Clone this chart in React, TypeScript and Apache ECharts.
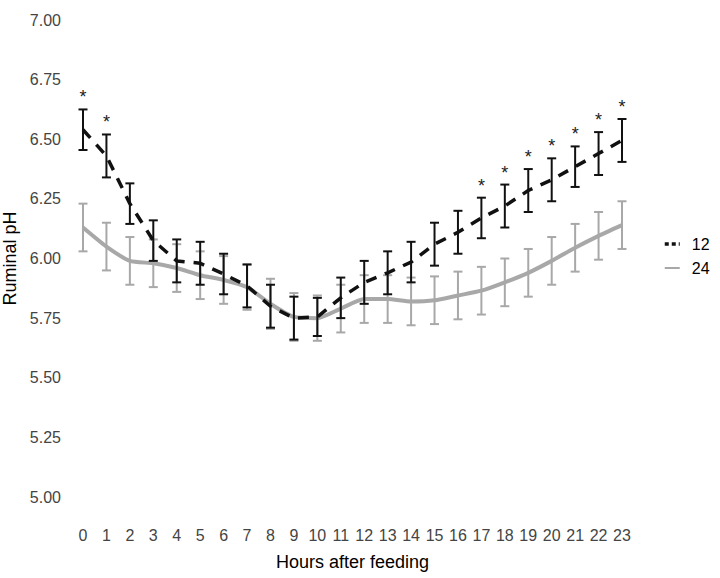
import { useEffect, useRef } from 'react';
import * as echarts from 'echarts';

const hours = Array.from({ length: 24 }, (_, i) => i);

// 12 h group (black dashed)
const mean12 = [6.54, 6.43, 6.23, 6.075, 5.99, 5.98, 5.935, 5.885, 5.8, 5.75, 5.755, 5.835, 5.9, 5.94, 5.985, 6.06, 6.11, 6.17, 6.22, 6.285, 6.33, 6.385, 6.44, 6.495];
const sem12 = [0.085, 0.09, 0.085, 0.085, 0.09, 0.09, 0.085, 0.09, 0.09, 0.09, 0.08, 0.085, 0.09, 0.09, 0.085, 0.09, 0.09, 0.085, 0.09, 0.09, 0.09, 0.085, 0.09, 0.09];

// 24 h group (grey solid)
const mean24 = [6.13, 6.05, 5.99, 5.98, 5.96, 5.93, 5.91, 5.88, 5.81, 5.755, 5.75, 5.79, 5.83, 5.83, 5.82, 5.825, 5.845, 5.865, 5.9, 5.94, 5.99, 6.045, 6.095, 6.14];
const sem24 = [0.1, 0.1, 0.1, 0.1, 0.1, 0.1, 0.1, 0.095, 0.105, 0.1, 0.095, 0.1, 0.1, 0.1, 0.1, 0.1, 0.1, 0.1, 0.1, 0.1, 0.1, 0.1, 0.1, 0.1];

// hours where the difference is significant
const sigHours = [0, 1, 17, 18, 19, 20, 21, 22, 23];

const BLACK = '#111111';
const GREY = '#a8a8a8';
const FONT = 'Arial, "Liberation Sans", sans-serif';

// eslint-disable-next-line @typescript-eslint/no-explicit-any
const errorBars = (color: string) => (_params: any, api: any) => {
  const x = api.value(0);
  const top = api.coord([x, api.value(2)]);
  const bottom = api.coord([x, api.value(1)]);
  const half = 4.5;
  const style = { stroke: color, lineWidth: 2 };
  return {
    type: 'group',
    children: [
      { type: 'line', shape: { x1: top[0], y1: top[1], x2: bottom[0], y2: bottom[1] }, style },
      { type: 'line', shape: { x1: top[0] - half, y1: top[1], x2: top[0] + half, y2: top[1] }, style },
      { type: 'line', shape: { x1: bottom[0] - half, y1: bottom[1], x2: bottom[0] + half, y2: bottom[1] }, style }
    ]
  };
};

export default function App() {
  const chartRef = useRef<HTMLDivElement>(null);

  useEffect(() => {
    if (!chartRef.current) return;
    const chart = echarts.init(chartRef.current, null, { renderer: 'svg' });

    const bars12 = hours.map((h, i) => [h, mean12[i] - sem12[i], mean12[i] + sem12[i]]);
    const bars24 = hours.map((h, i) => [h, mean24[i] - sem24[i], mean24[i] + sem24[i]]);
    const stars = sigHours.map((h) => [h, mean12[h] + sem12[h]]);

    const option: echarts.EChartsOption = {
      animation: false,
      backgroundColor: '#ffffff',
      textStyle: { fontFamily: FONT },
      grid: { left: 83, right: 98, top: 20, bottom: 81, containLabel: false, outerBoundsMode: 'none' } as any,
      xAxis: {
        type: 'value',
        min: 0,
        max: 23,
        interval: 1,
        name: 'Hours after feeding',
        nameLocation: 'middle',
        nameGap: 56,
        nameTextStyle: { fontSize: 18, color: '#000', fontFamily: FONT },
        axisLine: { show: false },
        axisTick: { show: false },
        splitLine: { show: false },
        axisLabel: { margin: 30, fontSize: 16, color: '#444', fontFamily: FONT }
      },
      yAxis: {
        type: 'value',
        min: 5,
        max: 7,
        interval: 0.25,
        name: 'Ruminal pH',
        nameLocation: 'middle',
        nameRotate: 90,
        nameGap: 53,
        nameTextStyle: { fontSize: 18, color: '#000', fontFamily: FONT },
        axisLine: { show: false },
        axisTick: { show: false },
        splitLine: { show: false },
        axisLabel: {
          margin: 22,
          fontSize: 16,
          color: '#444',
          fontFamily: FONT,
          formatter: (v: number) => v.toFixed(2)
        }
      },
      legend: {
        orient: 'vertical',
        left: 658,
        top: 231,
        itemWidth: 15,
        itemHeight: 14,
        itemGap: 8,
        textStyle: { fontSize: 16, color: '#000', fontFamily: FONT, padding: [0, 0, 0, 7] },
        data: [
          { name: '12', lineStyle: { type: [4, 3], width: 3.5 }, itemStyle: { opacity: 0 } },
          { name: '24', itemStyle: { opacity: 0 } }
        ]
      },
      series: [
        {
          type: 'custom',
          renderItem: errorBars(GREY),
          data: bars24,
          silent: true,
          z: 1
        },
        {
          name: '24',
          type: 'line',
          data: hours.map((h, i) => [h, mean24[i]]),
          symbol: 'none',
          smooth: 0.2,
          lineStyle: { color: GREY, width: 4 },
          itemStyle: { color: GREY },
          z: 2
        },
        {
          type: 'custom',
          renderItem: errorBars(BLACK),
          data: bars12,
          silent: true,
          z: 3
        },
        {
          name: '12',
          type: 'line',
          data: hours.map((h, i) => [h, mean12[i]]),
          symbol: 'none',
          lineStyle: { color: BLACK, width: 3.5, type: [11, 9] },
          itemStyle: { color: BLACK },
          z: 4
        },
        {
          type: 'custom',
          data: stars,
          silent: true,
          z: 5,
          // eslint-disable-next-line @typescript-eslint/no-explicit-any
          renderItem: (_params: any, api: any) => {
            const p = api.coord([api.value(0), api.value(1)]);
            return {
              type: 'text',
              x: p[0],
              y: p[1] - 3,
              style: {
                text: '*',
                fontSize: 18,
                fontFamily: FONT,
                fill: '#222',
                align: 'center',
                verticalAlign: 'bottom'
              }
            };
          }
        }
      ]
    };

    chart.setOption(option);
    return () => chart.dispose();
  }, []);

  return (
    <div
      ref={chartRef}
      style={{ position: 'fixed', left: 0, top: 0, width: 720, height: 578 }}
    />
  );
}
